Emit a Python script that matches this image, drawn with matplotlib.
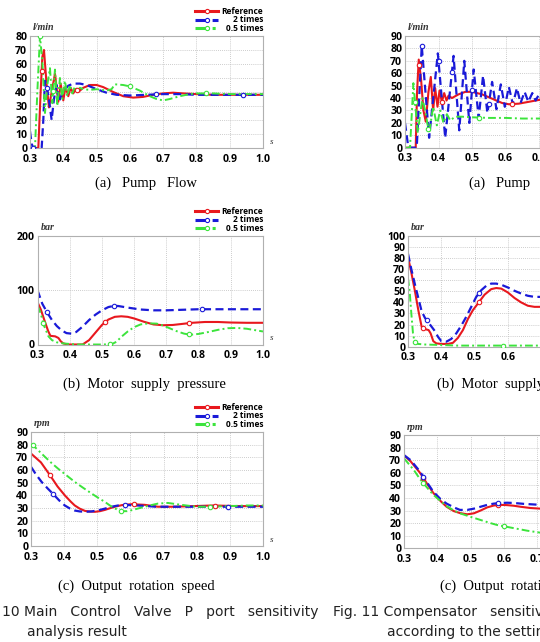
import matplotlib
matplotlib.use("Agg")
import matplotlib.pyplot as plt
from matplotlib.lines import Line2D
import numpy as np

plt.rcParams["font.family"] = ["Open Sans", "DejaVu Sans"]

W, H = 540, 642
XTICKS = [0.3, 0.4, 0.5, 0.6, 0.7, 0.8, 0.9, 1.0]
LABELS = ["Reference", "2 times", "0.5 times"]

# ---------------- Fig. 10 (a) pump flow, l/min ----------------
F10A_REF_T = [0.30, 0.325, 0.332, 0.337, 0.342, 0.35, 0.357, 0.365, 0.375, 0.385, 0.392, 0.40,
              0.407, 0.415, 0.422, 0.43, 0.437, 0.445, 0.46, 0.48, 0.50, 0.52, 0.55, 0.58, 0.61,
              0.64, 0.67, 0.70, 0.73, 0.76, 0.80, 0.85, 0.90, 0.95, 1.0]
F10A_REF = [0, 0, 40, 65, 70, 45, 29, 40, 53, 33, 46, 34, 44, 37, 43, 39, 42, 40, 43, 45, 45,
            43.5, 40, 37, 36, 36.5, 38, 39, 39.5, 39, 38.5, 38, 38, 38, 38]
F10A_X2_T = [0.30, 0.305, 0.31, 0.335, 0.34, 0.345, 0.355, 0.365, 0.372, 0.38, 0.387, 0.395,
             0.405, 0.415, 0.43, 0.45, 0.47, 0.50, 0.53, 0.56, 0.60, 0.65, 0.70, 0.75, 0.80, 0.9, 1.0]
F10A_X2 = [12, 3, 0, 0, 20, 48, 38, 20, 35, 45, 33, 38, 42, 44.5, 46, 46, 45, 42, 39.5, 38,
           37.5, 38, 38.5, 38.5, 38, 38, 38]
F10A_X05_T = [0.30, 0.315, 0.322, 0.33, 0.337, 0.345, 0.352, 0.36, 0.367, 0.375, 0.382, 0.39,
              0.397, 0.405, 0.412, 0.42, 0.427, 0.435, 0.442, 0.45, 0.46, 0.48, 0.50, 0.53,
              0.545, 0.555, 0.58, 0.60, 0.63, 0.66, 0.68, 0.70, 0.72, 0.75, 0.78, 0.80, 0.85,
              0.90, 0.95, 1.0]
F10A_X05 = [0, 0, 40, 80, 62, 25, 45, 57, 32, 56, 30, 50, 35, 48, 37, 45, 39, 44, 40, 43, 42,
            41.5, 42, 41, 42, 45.5, 45, 44, 41, 37, 35, 34, 35, 37, 38.5, 39, 39, 38.5, 38.5, 38.5]

# ---------------- Fig. 10 (b) motor supply pressure, bar ----------------
P10B_REF_T = [0.30, 0.31, 0.323, 0.333, 0.34, 0.355, 0.365, 0.372, 0.38, 0.39, 0.40, 0.44, 0.46,
              0.48, 0.50, 0.52, 0.54, 0.56, 0.58, 0.60, 0.63, 0.66, 0.69, 0.72, 0.75, 0.78, 0.82,
              0.86, 0.90, 0.95, 1.0]
P10B_REF = [78, 65, 42, 25, 16, 15, 12, 6, 2, 0.5, 0, 0, 8, 22, 36, 46, 51, 52, 51, 48, 42, 37,
            35.5, 36, 38, 40, 41.5, 41.5, 40.5, 40, 40]
P10B_X2_T = [0.30, 0.315, 0.33, 0.345, 0.36, 0.375, 0.39, 0.405, 0.42, 0.44, 0.46, 0.48, 0.50,
             0.52, 0.535, 0.55, 0.58, 0.62, 0.66, 0.70, 0.75, 0.80, 0.85, 0.90, 0.95, 1.0]
P10B_X2 = [100, 75, 59, 45, 34, 26, 21, 20, 23, 33, 45, 55, 63, 69, 71, 71, 68, 64.5, 63, 63,
           64, 65, 65, 65, 65, 65]
P10B_X05_T = [0.30, 0.31, 0.32, 0.334, 0.345, 0.36, 0.38, 0.40, 0.425, 0.46, 0.50, 0.53, 0.545,
              0.56, 0.58, 0.60, 0.62, 0.645, 0.67, 0.69, 0.71, 0.73, 0.755, 0.775, 0.80, 0.83,
              0.86, 0.89, 0.92, 0.95, 0.98, 1.0]
P10B_X05 = [72, 57, 35, 15, 8, 4, 2, 1, 0, 0, 0, 0.5, 5, 14, 24, 32, 37, 39, 38.5, 35, 30, 25,
            20, 18, 19.5, 23, 27, 30, 30.5, 29, 26, 24]

# ---------------- Fig. 10 (c) output rotation speed, rpm ----------------
S10C_REF_T = [0.30, 0.33, 0.357, 0.38, 0.402, 0.42, 0.432, 0.447, 0.463, 0.478, 0.493, 0.508,
              0.523, 0.538, 0.553, 0.575, 0.603, 0.643, 0.683, 0.73, 0.79, 0.85, 0.92, 1.0]
S10C_REF = [73, 66, 56, 47, 40, 35, 32, 29.5, 27.7, 27.2, 27, 27.5, 28.5, 29.8, 31, 32.3, 33,
            32.5, 31, 31, 31.5, 32, 31.5, 31.5]
S10C_X2_T = [0.30, 0.315, 0.332, 0.35, 0.367, 0.385, 0.402, 0.418, 0.432, 0.447, 0.463, 0.483,
             0.503, 0.523, 0.543, 0.563, 0.583, 0.62, 0.68, 0.75, 0.82, 0.89, 1.0]
S10C_X2 = [62.5, 56.5, 50.6, 45.5, 41, 36, 32, 29.5, 28, 27.3, 27, 27.3, 28.2, 29.5, 31, 32,
           32.5, 32, 31, 31, 31, 31, 31]
S10C_X05_T = [0.30, 0.32, 0.342, 0.362, 0.382, 0.407, 0.432, 0.457, 0.483, 0.503, 0.523, 0.538,
              0.553, 0.573, 0.59, 0.603, 0.623, 0.643, 0.663, 0.683, 0.713, 0.753, 0.80, 0.84,
              0.90, 0.95, 1.0]
S10C_X05 = [81, 76, 70.4, 65.5, 61, 55.8, 50.6, 46, 41.4, 38, 34.8, 32, 29.6, 27.5, 27.5, 28.2,
            29.6, 31, 32.3, 33.5, 34, 32.5, 31, 31, 31.5, 32, 32]

# ---------------- Fig. 11 (a) pump flow, l/min ----------------
F11A_REF_T = [0.30, 0.332, 0.336, 0.341, 0.348, 0.355, 0.362, 0.37, 0.377, 0.384, 0.39, 0.397,
              0.403, 0.41, 0.417, 0.424, 0.43, 0.44, 0.46, 0.48, 0.50, 0.53, 0.56, 0.59, 0.61,
              0.64, 0.67, 0.70, 0.75, 0.80, 0.9, 1.0]
F11A_REF = [0, 0, 45, 71, 55, 30, 21, 45, 57, 30, 48, 33, 46, 37, 44, 38, 42, 40, 43, 45, 45,
            43, 39.5, 36, 35, 35.5, 37, 38.5, 39.5, 39, 38.5, 38.5]
F11A_X2_T = [0.30, 0.31, 0.335, 0.35, 0.372, 0.398, 0.42, 0.445, 0.462, 0.477, 0.492, 0.505,
             0.52, 0.533, 0.546, 0.56, 0.573, 0.586, 0.598, 0.61, 0.622, 0.634, 0.645, 0.657,
             0.668, 0.68, 0.69, 0.70, 0.71, 0.72, 0.73, 0.75, 0.78, 0.85, 1.0]
F11A_X2 = [20, 0, 0, 82, 8, 76, 8, 74, 14, 70, 20, 63, 24, 58, 28, 53, 31, 51, 33, 49, 35, 48,
           36, 45, 37, 44, 38, 43, 38.5, 42, 39, 41, 40, 40, 40]
F11A_X05_T = [0.30, 0.315, 0.325, 0.338, 0.352, 0.36, 0.372, 0.384, 0.395, 0.405, 0.415, 0.425,
              0.435, 0.45, 0.47, 0.50, 0.55, 0.60, 0.65, 0.70, 0.80, 0.90, 1.0]
F11A_X05 = [0, 0, 52, 12, 40, 30, 12, 33, 18, 30, 20, 27, 22, 25, 25, 24.5, 24, 24, 23.5, 23.5,
            23.5, 23.5, 23.5]

# ---------------- Fig. 11 (b) motor supply pressure, bar ----------------
P11B_REF_T = [0.30, 0.31, 0.321, 0.331, 0.341, 0.35, 0.362, 0.368, 0.376, 0.385, 0.40, 0.42,
              0.435, 0.45, 0.465, 0.48, 0.495, 0.51, 0.53, 0.55, 0.565, 0.58, 0.60, 0.62, 0.64,
              0.66, 0.68, 0.70, 0.75, 0.80, 0.9, 1.0]
P11B_REF = [81, 67, 50, 33, 18, 16, 15, 12, 5, 3, 2.5, 2.5, 3.5, 8, 15, 25, 33, 39, 47, 52, 53,
            52.5, 49, 44, 40, 37, 36, 36, 37, 38, 38, 38]
P11B_X2_T = [0.30, 0.31, 0.321, 0.331, 0.341, 0.351, 0.361, 0.371, 0.381, 0.39, 0.40, 0.415,
             0.43, 0.445, 0.46, 0.475, 0.49, 0.505, 0.52, 0.535, 0.55, 0.565, 0.58, 0.60, 0.62,
             0.64, 0.66, 0.68, 0.70, 0.75, 0.8, 0.9, 1.0]
P11B_X2 = [84, 70, 56, 44, 32, 26, 22, 18, 14, 9, 5, 4.5, 7, 12, 19, 27, 36, 45, 51, 55, 57, 57,
           56, 53.5, 50.5, 48, 46, 45, 45, 45, 45, 45, 45]
P11B_X05_T = [0.30, 0.305, 0.31, 0.315, 0.32, 0.33, 0.35, 0.40, 0.45, 0.5, 0.6, 0.7, 0.8, 0.9, 1.0]
P11B_X05 = [62, 50, 30, 12, 4, 2.5, 2, 1.5, 1, 1, 1, 1, 1, 1, 1]

# ---------------- Fig. 11 (c) output rotation speed, rpm ----------------
S11C_REF_T = [0.30, 0.32, 0.348, 0.37, 0.388, 0.41, 0.428, 0.45, 0.468, 0.49, 0.51, 0.53, 0.55,
              0.57, 0.59, 0.61, 0.63, 0.65, 0.68, 0.71, 0.75, 0.8, 0.9, 1.0]
S11C_REF = [74, 69, 60, 51, 44, 37.5, 33, 29.5, 28, 27, 27.8, 30, 32.5, 34, 34.5, 34.3, 33.8, 33,
            32, 31.5, 31.5, 31.5, 31.5, 31.5]
S11C_X2_T = [0.30, 0.32, 0.348, 0.37, 0.388, 0.41, 0.428, 0.45, 0.468, 0.49, 0.51, 0.53, 0.55,
             0.57, 0.59, 0.61, 0.63, 0.66, 0.71, 0.75, 0.8, 0.9, 1.0]
S11C_X2 = [74, 70, 61, 52, 45, 39, 35.5, 32.5, 30.5, 30.5, 31.5, 33, 34.5, 35.5, 36, 36.2, 36,
           35.3, 34.5, 34, 33.5, 33, 33]
S11C_X05_T = [0.30, 0.33, 0.348, 0.37, 0.388, 0.41, 0.428, 0.45, 0.468, 0.50, 0.53, 0.56, 0.58,
              0.61, 0.63, 0.67, 0.71, 0.75, 0.8, 0.9, 1.0]
S11C_X05 = [71.5, 62, 55, 48, 42.5, 37.5, 33.5, 30, 27.8, 25, 22.5, 20, 18.5, 17, 16, 14, 12.4,
            11, 10, 8, 7]

STYLES = [
    dict(color="#e8181e", ls="-", lw=1.5),
    dict(color="#1a1ad8", ls=(0, (3.6, 2.0)), lw=1.6),
    dict(color="#3ce43c", ls=(0, (4, 1.6, 1, 1.6)), lw=1.4),
]


def box(x1, y1, x2, y2):
    return [x1 / W, 1 - y2 / H, (x2 - x1) / W, (y2 - y1) / H]


def panel(rect, ylim, ystep, unit, series, marks, legend):
    x1, y1, x2, y2 = rect
    ax = fig.add_axes(box(x1, y1, x2, y2))
    for (t, y), mx, st in zip(series, marks, STYLES):
        ax.plot(t, y, **st, solid_joinstyle="round")
        mx = np.array(mx)
        ax.plot(mx, np.interp(mx, t, y), ls="none", marker="o", ms=3.2,
                mfc="white", mec=st["color"], mew=0.8, zorder=4)
    ax.set_xlim(0.3, 1.0)
    ax.set_ylim(*ylim)
    ax.set_xticks(XTICKS)
    # ticks that fall off the right edge of the page crop get no label
    ax.set_xticklabels([f"{v:.1f}" if x1 + (v - 0.3) / 0.7 * (x2 - x1) < W else ""
                        for v in XTICKS])
    ax.set_yticks(np.arange(ylim[0], ylim[1] + 1, ystep))
    ax.tick_params(length=0, labelsize=7.6)
    ax.tick_params(axis="x", pad=4)
    ax.tick_params(axis="y", pad=2)
    for lab in ax.get_xticklabels() + ax.get_yticklabels():
        lab.set_fontweight("bold")
    ax.grid(True, ls=(0, (1, 1.5)), color="#bcbcbc", lw=0.6)
    for sp in ax.spines.values():
        sp.set_color("#b0b0b0")
        sp.set_linewidth(0.8)
    fig.text((x1 + 3) / W, 1 - (y1 - 8) / H, unit, family="Liberation Serif",
             style="italic", weight="bold", size=7.2, color="#333333", va="center")
    if x2 + 10 < W:
        fig.text((x2 + 7) / W, 1 - (y2 - 6) / H, "s", family="Liberation Serif",
                 style="italic", size=6.5, color="#333333", va="center")
    if legend:
        for k, (lab, st) in enumerate(zip(LABELS, STYLES)):
            yy = 1 - (y1 - 25 + 8.7 * k) / H
            fig.add_artist(Line2D([195 / W, 218 / W], [yy, yy], transform=fig.transFigure,
                                  color=st["color"], ls=st["ls"], lw=2.2))
            fig.add_artist(Line2D([206.5 / W], [yy], transform=fig.transFigure, ls="none",
                                  marker="o", ms=3, mfc="white", mec=st["color"], mew=0.8))
            fig.text(263 / W, yy, lab, ha="right", va="center", size=6, weight="bold")
    return ax


fig = plt.figure(figsize=(W / 100, H / 100), dpi=100)

panel((30, 36, 263, 148), (0, 80), 10, "l/min",
      [(F10A_REF_T, F10A_REF), (F10A_X2_T, F10A_X2), (F10A_X05_T, F10A_X05)],
      [[0.335, 0.44], [0.31, 0.35, 0.68, 0.94], [0.33, 0.37, 0.60, 0.83]], True)
panel((37.5, 236, 263, 344.5), (0, 200), 100, "bar",
      [(P10B_REF_T, P10B_REF), (P10B_X2_T, P10B_X2), (P10B_X05_T, P10B_X05)],
      [[0.51, 0.77], [0.329, 0.538, 0.81], [0.318, 0.525, 0.77]], True)
panel((31, 432, 263, 546), (0, 90), 10, "rpm",
      [(S10C_REF_T, S10C_REF), (S10C_X2_T, S10C_X2), (S10C_X05_T, S10C_X05)],
      [[0.357, 0.61, 0.854], [0.367, 0.583, 0.894], [0.305, 0.573, 0.84]], True)

panel((405, 36, 639.5, 147.7), (0, 90), 10, "l/min",
      [(F11A_REF_T, F11A_REF), (F11A_X2_T, F11A_X2), (F11A_X05_T, F11A_X05)],
      [[0.343, 0.41, 0.62], [0.35, 0.40, 0.44, 0.50, 0.55], [0.33, 0.37, 0.52]], False)
panel((408, 236, 641, 346.7), (0, 100), 10, "bar",
      [(P11B_REF_T, P11B_REF), (P11B_X2_T, P11B_X2), (P11B_X05_T, P11B_X05)],
      [[0.344, 0.513], [0.356, 0.513], [0.32, 0.586]], False)
panel((404, 435, 637, 548.3), (0, 90), 10, "rpm",
      [(S11C_REF_T, S11C_REF), (S11C_X2_T, S11C_X2), (S11C_X05_T, S11C_X05)],
      [[0.358, 0.583], [0.358, 0.583], [0.358, 0.60]], False)

# sub captions (serif) and figure captions
cap = dict(family="Liberation Serif", size=10.5, ha="center", va="center")
for x, y, s in [(146, 183, "(a)   Pump   Flow"), (144, 384, "(b)  Motor  supply  pressure"),
                (136, 586, "(c)  Output  rotation  speed"),
                (520, 183, "(a)   Pump   Flow"), (518, 384, "(b)  Motor  supply  pressure"),
                (518, 586, "(c)  Output  rotation  speed")]:
    fig.text(x / W, 1 - y / H, s, **cap)

fc = dict(family="DejaVu Sans", size=10, ha="left", va="center", color="#222222")
fig.text(2 / W, 1 - 612 / H, "10 Main   Control   Valve   P   port   sensitivity", **fc)
fig.text(27 / W, 1 - 632 / H, "analysis result", **fc)
fig.text(333 / W, 1 - 612 / H, "Fig. 11 Compensator   sensitivity", **fc)
fig.text(387 / W, 1 - 632 / H, "according to the setting", **fc)

fig.savefig("out.png", dpi=100)
